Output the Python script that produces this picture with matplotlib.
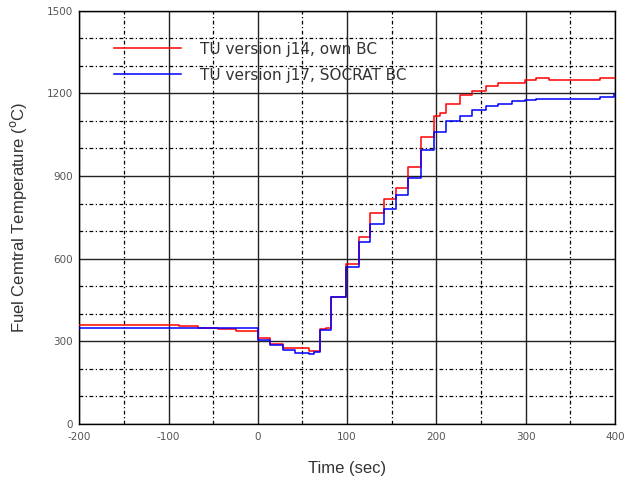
import matplotlib
matplotlib.use("Agg")
import matplotlib.pyplot as plt
from matplotlib.ticker import MultipleLocator

plt.rcParams['font.family'] = ['Liberation Sans', 'DejaVu Sans']
plt.rcParams['axes.unicode_minus'] = False

# step curves (value holds until next time)
t_j14 = [-200, -88, -67, -45, -24, 0, 14, 28, 57, 70, 76, 82, 99, 113, 126, 141,
         155, 168, 183, 197, 204, 211, 227, 240, 256, 269, 299, 312, 326, 383, 400]
T_j14 = [361, 354, 349, 344, 336, 312, 289, 276, 265, 344, 349, 462, 581, 680, 764, 818,
         858, 932, 1040, 1117, 1127, 1163, 1194, 1209, 1225, 1239, 1249, 1255, 1249, 1255, 1255]

t_j17 = [-200, 0, 14, 28, 42, 57, 63, 70, 82, 99, 113, 126, 141, 155, 168, 183,
         197, 211, 227, 240, 256, 269, 285, 299, 312, 383, 399, 400]
T_j17 = [349, 306, 286, 270, 259, 255, 262, 340, 461, 571, 662, 726, 782, 830, 894, 994,
         1059, 1100, 1118, 1139, 1153, 1163, 1171, 1175, 1180, 1188, 1196, 1196]

labels = ["TU version j14, own BC", "TU version j17, SOCRAT BC"]

fig = plt.figure(figsize=(6.24, 4.86), dpi=100)
ax = fig.add_axes([0.127, 0.1276, 0.8585, 0.8504])

ax.step(t_j14, T_j14, where='post', color='#ff0000', lw=1.1, label=labels[0], zorder=3)
ax.step(t_j17, T_j17, where='post', color='#0000ff', lw=1.1, label=labels[1], zorder=3)

ax.set_xlim(-200, 400)
ax.set_ylim(0, 1500)
ax.xaxis.set_major_locator(MultipleLocator(100))
ax.yaxis.set_major_locator(MultipleLocator(300))
ax.xaxis.set_minor_locator(MultipleLocator(50))
ax.yaxis.set_minor_locator(MultipleLocator(100))
ax.grid(which='major', color='#222222', lw=1.0, ls='-')
ax.grid(which='minor', color='black', lw=0.9, ls=(0, (3, 2, 1, 2)))
ax.tick_params(which='both', length=0, labelsize=7.5, labelcolor='#555555')
ax.tick_params(axis='x', pad=5.5)
ax.tick_params(axis='y', pad=4.5)
for lab in ax.get_xticklabels() + ax.get_yticklabels():
    lab.set_family('DejaVu Sans')
for s in ax.spines.values():
    s.set_linewidth(1.0)

ax.set_xlabel("Time (sec)", fontsize=12, color='#333333', labelpad=14)
ax.set_ylabel("Fuel Cemtral Temperature ($^{\\rm o}$C)", fontsize=12, color='#333333', labelpad=13)

ax.legend(loc='upper left', bbox_to_anchor=(0.065, 0.925), frameon=False,
          prop={'family': 'DejaVu Sans', 'size': 11},
          handlelength=4.4, handletextpad=1.2, labelspacing=0.72, borderpad=0,
          borderaxespad=0, labelcolor='#333333')

fig.savefig("out.png", dpi=100)
